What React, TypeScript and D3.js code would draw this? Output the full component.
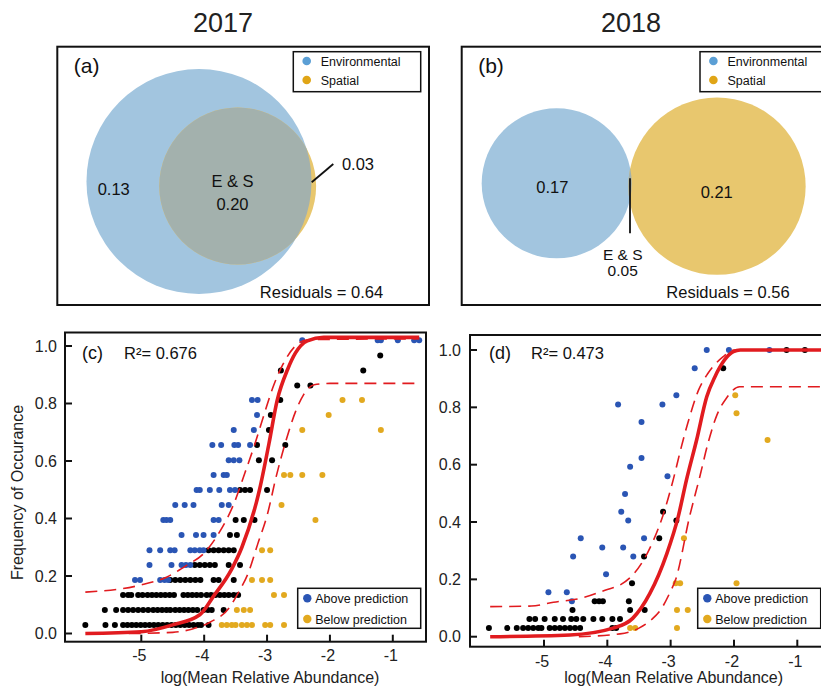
import React from 'react';
import * as d3 from 'd3';

type Pt = [number, number];
type Row = [number, number[]];

const FONT = 'Liberation Sans, Arial, Helvetica, sans-serif';

// ---- Venn partitions (a) 2017, (b) 2018 ----
const years = ['2017', '2018'];
const vennTags = ['(a)', '(b)'];
const envOnly = [0.13, 0.17];
const sharedES = [0.2, 0.05];
const spatialOnly = [0.03, 0.21];
const residuals = [0.64, 0.56];

// ---- neutral model panels ----
const xTicks = [-5, -4, -3, -2, -1];
const yTicks = [0, 0.2, 0.4, 0.6, 0.8, 1.0];
const r2Values = ['0.676', '0.473'];

// 2017: points by occurrence level -> log abundance
const cNeutral: Row[] = [
  [0.03, [-5.89, -5.57, -5.42, -5.29, -5.22, -5.15, -5.08, -5.01, -4.94, -4.87, -4.8, -4.73, -4.66, -4.59, -4.52, -4.45, -4.38, -4.31, -4.24, -4.17, -4.1, -4.05, -3.93]],
  [0.082, [-5.58, -5.4, -5.29, -5.21, -5.13, -5.05, -4.97, -4.89, -4.81, -4.74, -4.67, -4.6, -4.54, -4.46, -4.39, -4.32, -4.25, -4.18, -4.11, -4.01, -3.94, -3.88, -3.69]],
  [0.134, [-5.29, -5.21, -5.16, -5.05, -4.98, -4.9, -4.83, -4.76, -4.69, -4.62, -4.55, -4.48, -4.33, -4.26, -4.19, -4.12, -4.05, -3.96, -3.89, -3.82, -3.75, -3.68, -3.61, -3.53, -3.46]],
  [0.186, [-4.54, -4.46, -4.38, -4.3, -4.22, -4.14, -4.06, -3.85, -3.77, -3.53]],
  [0.238, [-4.15, -4.07, -3.99, -3.91, -3.83, -3.61, -3.43]],
  [0.29, [-3.93, -3.85, -3.77, -3.69, -3.61, -3.53]],
  [0.343, [-3.59, -3.48]],
  [0.395, [-3.5, -3.37, -3.2]],
  [0.499, [-3.43, -3.35, -3.27, -3.0]],
  [0.603, [-3.13, -2.92]],
  [0.656, [-3.16, -2.71]],
  [0.708, [-2.97]],
  [0.76, [-2.94]],
  [0.812, [-2.79]],
  [0.863, [-2.52, -2.31]],
  [0.915, [-2.78, -1.47]],
  [0.967, [-1.2]],
];
const cAbove: Row[] = [
  [0.186, [-5.1, -5.02, -4.7, -4.63, -4.57]],
  [0.238, [-4.87, -4.52, -4.36, -4.29, -4.22]],
  [0.29, [-4.87, -4.7, -4.54, -4.47, -4.22, -4.15, -4.07, -4.01]],
  [0.343, [-4.36, -4.13, -4.01, -3.85]],
  [0.395, [-4.65, -4.6, -4.54, -3.85, -3.77]],
  [0.447, [-4.46, -4.31, -4.17, -3.72, -3.61]],
  [0.499, [-4.12, -4.07, -3.91, -3.76, -3.59, -3.51]],
  [0.551, [-3.85, -3.69, -3.64]],
  [0.603, [-3.61, -3.53, -3.44]],
  [0.656, [-3.87, -3.73, -3.52, -3.46, -3.27]],
  [0.708, [-3.53, -3.21]],
  [0.76, [-3.16]],
  [0.812, [-3.24, -3.15]],
  [1.02, [-2.44, -1.24, -1.19, -0.92, -0.66, -0.58]],
];
const cBelow: Row[] = [
  [0.03, [-3.72, -3.64, -3.56, -3.5, -3.4, -3.32, -3.24, -3.03, -2.95, -2.73]],
  [0.082, [-3.48, -3.37, -3.27]],
  [0.134, [-2.89, -2.73]],
  [0.186, [-3.24, -3.08, -2.95]],
  [0.29, [-3.08, -2.95]],
  [0.395, [-2.23]],
  [0.447, [-2.77]],
  [0.551, [-2.73, -2.63, -2.44, -2.12]],
  [0.708, [-2.44, -1.19]],
  [0.76, [-2.02]],
  [0.812, [-1.8, -1.49]],
];
const cFit: Pt[] = [
  [-5.89, 0.0], [-5.0, 0.006], [-4.5, 0.03], [-4.07, 0.065], [-3.85, 0.13], [-3.56, 0.225],
  [-3.4, 0.3], [-3.12, 0.5], [-2.97, 0.66], [-2.84, 0.81], [-2.67, 0.92], [-2.55, 0.975],
  [-2.36, 1.018], [-2.1, 1.03], [-0.58, 1.03],
];
const cUpper: Pt[] = [
  [-5.89, 0.144], [-5.02, 0.168], [-4.6, 0.196], [-4.28, 0.237], [-4.0, 0.28], [-3.75, 0.355],
  [-3.53, 0.45], [-3.35, 0.56], [-3.2, 0.655], [-3.05, 0.76], [-2.9, 0.86], [-2.75, 0.935],
  [-2.55, 1.0], [-2.35, 1.022], [-0.58, 1.025],
];
const cLower: Pt[] = [
  [-5.2, 0.0], [-4.5, 0.004], [-4.2, 0.015], [-3.9, 0.04], [-3.6, 0.09], [-3.45, 0.145],
  [-3.3, 0.21], [-3.15, 0.31], [-3.0, 0.41], [-2.85, 0.55], [-2.7, 0.67], [-2.55, 0.77],
  [-2.42, 0.83], [-2.25, 0.865], [-2.0, 0.87], [-0.58, 0.87],
];

// 2018
const dNeutral: Row[] = [
  [0.03, [-5.87, -5.58, -5.43, -5.33, -5.25, -5.17, -5.09, -5.04, -4.91, -4.83, -4.75, -4.67, -4.59, -4.51, -4.43, -3.92, -3.86]],
  [0.062, [-5.23, -5.14, -4.99, -4.83, -4.7, -4.57, -4.49, -4.38, -4.22, -4.08, -3.92, -3.8]],
  [0.093, [-4.55, -3.64, -3.41]],
  [0.124, [-4.2, -4.13, -4.07, -3.66]],
  [0.186, [-3.61]],
  [0.28, [-3.42]],
  [0.343, [-3.18]],
  [0.405, [-2.91]],
  [0.436, [-3.12]],
  [0.936, [-2.17]],
  [1.0, [-1.17, -0.88]],
];
const dAbove: Row[] = [
  [0.124, [-4.56]],
  [0.155, [-4.93, -4.64]],
  [0.218, [-4.02]],
  [0.28, [-4.54, -3.59]],
  [0.311, [-4.08, -3.75]],
  [0.343, [-4.42, -3.42]],
  [0.405, [-3.67]],
  [0.436, [-3.78]],
  [0.498, [-3.72]],
  [0.56, [-3.05]],
  [0.593, [-3.64]],
  [0.623, [-3.46]],
  [0.749, [-3.46]],
  [0.81, [-3.83, -3.13]],
  [0.842, [-2.91]],
  [0.936, [-2.62]],
  [1.0, [-2.43, -2.08, -1.44]],
];
const dBelow: Row[] = [
  [0.03, [-3.64, -3.56, -2.9]],
  [0.093, [-2.9, -2.73]],
  [0.186, [-2.92, -2.85, -1.96]],
  [0.343, [-2.79]],
  [0.686, [-1.47]],
  [0.779, [-1.96]],
  [0.842, [-1.98]],
];
const dFit: Pt[] = [
  [-5.85, 0.0], [-4.59, 0.006], [-3.91, 0.03], [-3.6, 0.064], [-3.33, 0.15], [-3.06, 0.29],
  [-2.88, 0.419], [-2.75, 0.547], [-2.59, 0.686], [-2.43, 0.837], [-2.3, 0.907], [-2.01, 0.994],
  [-1.9, 1.0], [-0.5, 1.0],
];
const dUpper: Pt[] = [
  [-5.85, 0.105], [-5.2, 0.107], [-4.85, 0.12], [-4.4, 0.135], [-4.0, 0.165], [-3.8, 0.18],
  [-3.6, 0.215], [-3.42, 0.27], [-3.27, 0.337], [-3.12, 0.424], [-2.96, 0.547], [-2.83, 0.663],
  [-2.7, 0.767], [-2.56, 0.86], [-2.41, 0.919], [-2.17, 0.977], [-2.0, 1.0], [-0.5, 1.0],
];
const dLower: Pt[] = [
  [-4.45, 0.0], [-3.8, 0.01], [-3.5, 0.03], [-3.3, 0.06], [-3.14, 0.1], [-3.02, 0.15],
  [-2.92, 0.2], [-2.7, 0.42], [-2.54, 0.558], [-2.41, 0.675], [-2.27, 0.773], [-2.12, 0.832],
  [-1.91, 0.872], [-0.5, 0.872],
];

const BLUE = '#2a55b4';
const GOLD = '#e2a91f';
const RED = '#e11b1f';

const flat = (rows: Row[]): Pt[] => rows.flatMap(([y, xs]) => xs.map((x) => [x, y] as Pt));

// radius is linear in explained fraction
const rScale = d3.scaleLinear().domain([0, 1]).range([0, 341]);

const VennPanel = ({ i, left, right, titleX, envC, spC, labels, line, esGap, esSize }: any) => {
  const rE = rScale(envOnly[i] + sharedES[i]);
  const rS = rScale(spatialOnly[i] + sharedES[i]);
  const clipId = `envclip${i}`;
  const lx = labels;
  return (
    <g>
      <text x={titleX} y={31.5} fontSize={27} textAnchor="middle" fill="#222">
        {years[i]}
      </text>
      <rect x={left} y={46.7} width={right - left} height={258.3} fill="none" stroke="#111" strokeWidth={2} />
      <defs>
        <clipPath id={clipId}>
          <circle cx={envC[0]} cy={envC[1]} r={rE} />
        </clipPath>
      </defs>
      <circle cx={envC[0]} cy={envC[1]} r={rE} fill="#a2c5df" />
      <circle cx={spC[0]} cy={spC[1]} r={rS} fill="#e8c76e" />
      <circle cx={spC[0]} cy={spC[1]} r={rS} fill="#a3b1ad" clipPath={`url(#${clipId})`} />
      <text x={left + 16.5} y={73.3} fontSize={21} fill="#111">{vennTags[i]}</text>
      <g fontSize={16.5} textAnchor="middle" fill="#111">
        <text x={lx.env[0]} y={lx.env[1]}>{envOnly[i].toFixed(2)}</text>
        <text x={lx.sp[0]} y={lx.sp[1]}>{spatialOnly[i].toFixed(2)}</text>
        <text x={lx.es[0]} y={lx.es[1]} fontSize={esSize}>E &amp; S</text>
        <text x={lx.es[0]} y={lx.es[1] + esGap} fontSize={esSize}>{sharedES[i].toFixed(2)}</text>
        <text x={lx.res[0]} y={297.5}>{`Residuals = ${residuals[i].toFixed(2)}`}</text>
      </g>
      <line x1={line[0]} y1={line[1]} x2={line[2]} y2={line[3]} stroke="#111" strokeWidth={1.8} />
      <g>
        <rect x={lx.leg} y={51.7} width={127.4} height={40} fill="#fff" stroke="#111" strokeWidth={1.5} />
        <circle cx={lx.leg + 13.4} cy={61} r={4.3} fill="#5b9fd5" />
        <circle cx={lx.leg + 13.4} cy={80} r={4.3} fill="#e0a516" />
        <text x={lx.leg + 27.4} y={65.5} fontSize={12.5} fill="#111">Environmental</text>
        <text x={lx.leg + 27.4} y={84.5} fontSize={12.5} fill="#111">Spatial</text>
      </g>
    </g>
  );
};

const ScatterPanel = ({ i, frame, xr, yr, above, neutral, below, fit, upper, lower, tagX, tickEnd, xLabBase }: any) => {
  const x = d3.scaleLinear().domain([-5, -1]).range(xr);
  const y = d3.scaleLinear().domain([0, 1]).range(yr);
  const line = d3
    .line<Pt>()
    .x((d) => x(d[0]))
    .y((d) => y(d[1]))
    .curve(d3.curveMonotoneX);
  const [fl, ft, fr, fb] = frame;
  const dots = (rows: Row[], color: string) =>
    flat(rows).map((d, k) => <circle key={k} cx={x(d[0])} cy={y(d[1])} r={3} fill={color} />);
  return (
    <g>
      {dots(neutral, '#000')}
      {dots(above, BLUE)}
      {dots(below, GOLD)}
      <path d={line(upper) || ''} fill="none" stroke={RED} strokeWidth={1.6} strokeDasharray="12 7" />
      <path d={line(lower) || ''} fill="none" stroke={RED} strokeWidth={1.6} strokeDasharray="12 7" />
      <path d={line(fit) || ''} fill="none" stroke={RED} strokeWidth={3.6} />
      <rect x={fl} y={ft} width={fr - fl} height={fb - ft} fill="none" stroke="#111" strokeWidth={2} />
      {yTicks.map((t) => (
        <g key={t}>
          <line x1={fl} x2={fl + 7} y1={y(t)} y2={y(t)} stroke="#111" strokeWidth={2} />
          <text x={tickEnd} y={y(t) + 5.7} fontSize={16} textAnchor="end" fill="#222">
            {d3.format('.1f')(t)}
          </text>
        </g>
      ))}
      {xTicks.map((t) => (
        <g key={t}>
          <line x1={x(t)} x2={x(t)} y1={fb} y2={fb - 7} stroke="#111" strokeWidth={2} />
          <text x={x(t) - 2} y={xLabBase} fontSize={16} textAnchor="middle" fill="#222">
            {t}
          </text>
        </g>
      ))}
      <text x={(x(-5) + x(-1)) / 2 + 3} y={682.5} fontSize={16} textAnchor="middle" fill="#222">
        log(Mean Relative Abundance)
      </text>
      <text x={tagX} y={359} fontSize={18} fill="#111">{i ? '(d)' : '(c)'}</text>
      <text x={tagX + 42} y={359} fontSize={16.5} fill="#111">{`R²= ${r2Values[i]}`}</text>
      <g>
        <rect x={frame[4]} y={588.3} width={123} height={40} fill="#fff" stroke="#111" strokeWidth={1.5} />
        <circle cx={frame[4] + 9.6} cy={598.3} r={4.2} fill={BLUE} />
        <circle cx={frame[4] + 9.6} cy={619} r={4.2} fill={GOLD} />
        <text x={frame[4] + 17.5} y={602.8} fontSize={12.5} fill="#111">Above prediction</text>
        <text x={frame[4] + 17.5} y={623.5} fontSize={12.5} fill="#111">Below prediction</text>
      </g>
    </g>
  );
};

export default function App() {
  return (
    <div style={{ position: 'absolute', left: 0, top: 0, background: '#fff' }}>
      <svg width={821} height={691} style={{ display: 'block', fontFamily: FONT }}>
        <rect width={821} height={691} fill="#fff" />
        <VennPanel
          i={0}
          left={57.3}
          right={429}
          titleX={223}
          envC={[199, 181.5]}
          spC={[237.7, 186]}
          labels={{ env: [113.7, 194.8], sp: [358, 170], es: [232.5, 186.5], res: [321.5], leg: 293.3 }}
          line={[333.3, 164, 311.7, 182.3]}
          esGap={23.5}
          esSize={16.5}
        />
        <VennPanel
          i={1}
          left={461.7}
          right={840}
          titleX={631}
          envC={[556.7, 183.3]}
          spC={[717, 186.2]}
          labels={{ env: [552.3, 192.6], sp: [716.7, 198.2], es: [622.7, 259.5], res: [728], leg: 700 }}
          line={[630, 178.3, 630, 233.3]}
          esGap={16}
          esSize={15.5}
        />
        <ScatterPanel
          i={0}
          frame={[65, 332.5, 426, 641.7, 297.7]}
          xr={[141.3, 392.8]}
          yr={[633.5, 346]}
          above={cAbove}
          neutral={cNeutral}
          below={cBelow}
          fit={cFit}
          upper={cUpper}
          lower={cLower}
          tagX={82}
          tickEnd={57}
          xLabBase={661}
        />
        <ScatterPanel
          i={1}
          frame={[470, 335, 840, 646.7, 697.7]}
          xr={[544, 797.3]}
          yr={[636.7, 350]}
          above={dAbove}
          neutral={dNeutral}
          below={dBelow}
          fit={dFit}
          upper={dUpper}
          lower={dLower}
          tagX={489}
          tickEnd={461}
          xLabBase={666.5}
        />
        <text
          transform="translate(23,492.5) rotate(-90)"
          fontSize={16}
          textAnchor="middle"
          fill="#222"
        >
          Frequency of Occurance
        </text>
      </svg>
    </div>
  );
}
